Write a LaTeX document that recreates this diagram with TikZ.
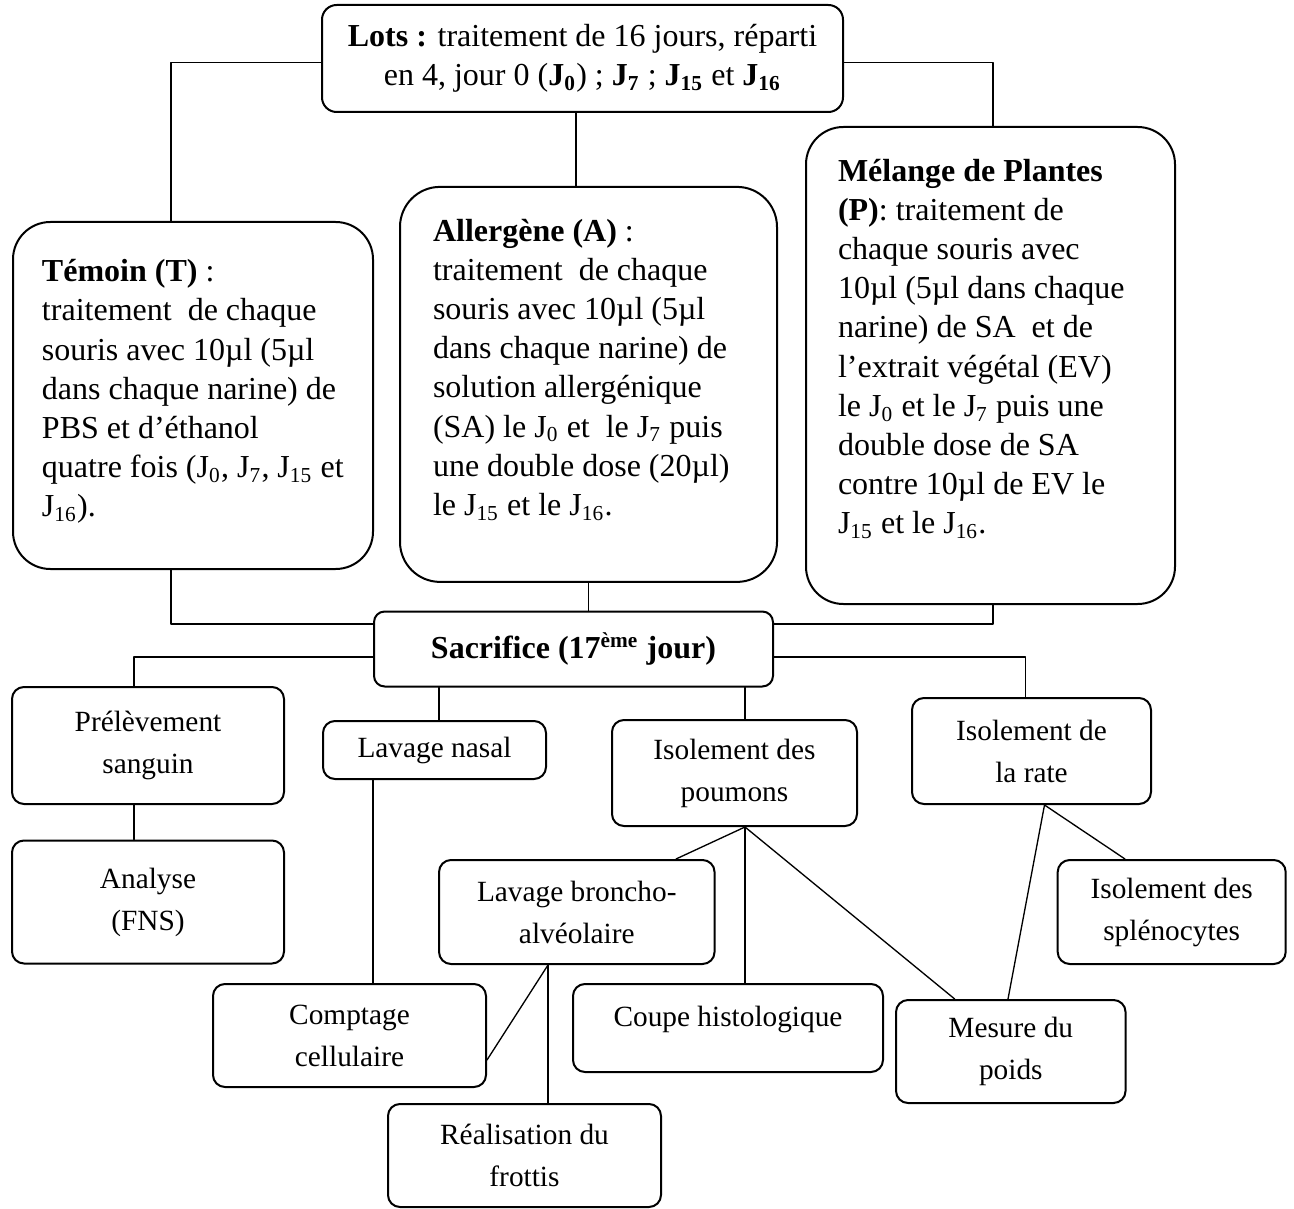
\documentclass[tikz,border=0pt]{standalone}
\usepackage{fontspec}
\setmainfont{Liberation Serif}
\usetikzlibrary{calc}

\begin{document}
\begin{tikzpicture}[
    x=0.375pt,
    y=-0.375pt,
    line cap=round,
    line join=round,
    taille/.style 2 args={minimum width=#1*0.375pt, minimum height=#2*0.375pt},
    marge/.style 2 args={text width=#1*0.375pt, inner xsep=#2*0.375pt},
    petite/.style={draw, line width=0.75pt, rounded corners=4.5pt, inner sep=0pt,
        align=center, font=\fontsize{11}{15.75}\selectfont},
    grande/.style={draw, line width=0.75pt, rounded corners=14pt, inner ysep=0pt,
        align=flush left, font=\fontsize{12}{14.7}\selectfont},
    lien/.style={line width=0.5pt}
]

\useasboundingbox (0,0) rectangle (1294,1209);

% -------------------------------------------------
% Lots and the three groups
% -------------------------------------------------

\node[petite, taille={521}{107}, rounded corners=5.5pt,
      font=\fontsize{12}{14.6}\selectfont] (lots) at (582.5,58.5)
    {\textbf{Lots :} traitement de 16 jours, réparti\\
     en 4, jour 0 (\textbf{J\textsubscript{0}}) ; \textbf{J\textsubscript{7}} ;
     \textbf{J\textsubscript{15}} et \textbf{J\textsubscript{16}}};

\node[grande, taille={360}{347}, marge={302}{29}] (temoin) at (193,395.5)
    {\textbf{Témoin (T)} :\\
     traitement\ \ de chaque\\
     souris avec 10µl (5µl\\
     dans chaque narine) de\\
     PBS et d’éthanol\\
     quatre fois (J\textsubscript{0}, J\textsubscript{7}, J\textsubscript{15} et\\
     J\textsubscript{16}).\par\kern3pt};

\node[grande, taille={377}{395}, marge={311}{33}, rounded corners=15pt] (allergene) at (588.5,384.4)
    {\textbf{Allergène (A)} :\\
     traitement\ \ de chaque\\
     souris avec 10µl (5µl\\
     dans chaque narine) de\\
     solution allergénique\\
     (SA) le J\textsubscript{0} et\ \ le J\textsubscript{7} puis\\
     une double dose (20µl)\\
     le J\textsubscript{15} et le J\textsubscript{16}.\par\kern11pt};

\node[grande, taille={369}{477}, marge={305}{32}] (melange) at (990.5,365.5)
    {\textbf{Mélange de Plantes}\\
     \textbf{(P)}: traitement de\\
     chaque souris avec\\
     10µl (5µl dans chaque\\
     narine) de SA\ \ et de\\
     l’extrait végétal (EV)\\
     le J\textsubscript{0} et le J\textsubscript{7} puis une\\
     double dose de SA\\
     contre 10µl de EV le\\
     J\textsubscript{15} et le J\textsubscript{16}.\par\kern12.5pt};

% -------------------------------------------------
% Sacrifice
% -------------------------------------------------

\node[petite, taille={399}{75}, rounded corners=4pt,
      font=\fontsize{12}{14.4}\selectfont\bfseries] (sacrifice) at (573.5,649)
    {Sacrifice (17\textsuperscript{ème} jour)};

% -------------------------------------------------
% Samples and analyses
% -------------------------------------------------

\node[petite, taille={272}{117}] (prelevement) at (148,745.5) {Prélèvement\\ sanguin};
\node[petite, taille={272}{123}] (analyse) at (148,902) {Analyse\\ (FNS)};
\node[petite, taille={223}{58}] (nasal) at (434.5,750) {Lavage nasal};
\node[petite, taille={245}{106}] (poumons) at (734.5,773) {Isolement des\\ poumons};
\node[petite, taille={239}{106}] (rate) at (1031.5,751) {Isolement de\\ la rate};
\node[petite, taille={275.5}{104}] (broncho) at (576.8,912) {Lavage broncho-\\ alvéolaire};
\node[petite, taille={228}{104}] (splenocytes) at (1171.7,912) {Isolement des\\ splénocytes};
\node[petite, taille={273}{103}] (comptage) at (349.5,1035.5) {Comptage\\ cellulaire};
\node[petite, taille={310}{88}, text depth=9pt] (coupe) at (728,1028) {Coupe histologique};
\node[petite, taille={229.5}{103}] (mesure) at (1010.8,1051.5) {Mesure du\\ poids};
\node[petite, taille={273}{103}] (realisation) at (524.5,1155.5) {Réalisation du\\ frottis};

% -------------------------------------------------
% Connectors, upper part
% -------------------------------------------------

\draw[lien] ($(lots.west)+(0,4)$) -| ($(temoin.north)+(-22,0)$);
\draw[lien] ($(lots.east)+(0,4)$) -| ($(melange.north)+(2.5,0)$);
\draw[lien] ($(lots.south)+(-6.5,0)$) -- ($(allergene.north)+(-12.5,0)$);

\draw[lien] ($(temoin.south)+(-22,0)$) |- ($(sacrifice.west)+(0,-25)$);
\draw[lien] (allergene.south) -- (allergene.south |- sacrifice.north);
\draw[lien] ($(melange.south)+(2.5,0)$) |- ($(sacrifice.east)+(0,-25)$);

% -------------------------------------------------
% Connectors, lower part
% -------------------------------------------------

\draw[lien] ($(sacrifice.west)+(0,8)$) -| ($(prelevement.north)+(-14,0)$);
\draw[lien] ($(sacrifice.east)+(0,8)$) -| ($(rate.north)+(-6,0)$);

\coordinate (n1) at ($(nasal.north)+(4.5,0)$);
\coordinate (p1) at ($(poumons.north)+(10.5,0)$);
\draw[lien] (n1) -- (n1 |- sacrifice.south);
\draw[lien] (p1) -- (p1 |- sacrifice.south);

\draw[lien] ($(prelevement.south)+(-14,0)$) -- ($(analyse.north)+(-14,0)$);
\draw[lien] ($(nasal.south)+(-61.5,0)$) -- ($(comptage.north)+(23.5,0)$);

% lungs
\coordinate (pb) at ($(poumons.south)+(10.5,0)$);
\draw[lien] (pb) -- ($(broncho.north)+(99.2,0)$);
\draw[lien] (pb) -- ($(coupe.north)+(17,0)$);
\draw[lien] (pb) -- ($(mesure.north)+(-56.1,0)$);

% spleen
\coordinate (rb) at ($(rate.south)+(13,0)$);
\draw[lien] (rb) -- ($(mesure.north)+(-2.8,0)$);
\draw[lien] (rb) -- ($(splenocytes.north)+(-46.7,0)$);

% lavage broncho-alveolaire
\coordinate (bb) at ($(broncho.south)+(-28.8,0)$);
\draw[lien] (bb) -- ($(comptage.east)+(0,24.5)$);
\draw[lien] (bb) -- ($(realisation.north)+(23.5,0)$);

\end{tikzpicture}
\end{document}
